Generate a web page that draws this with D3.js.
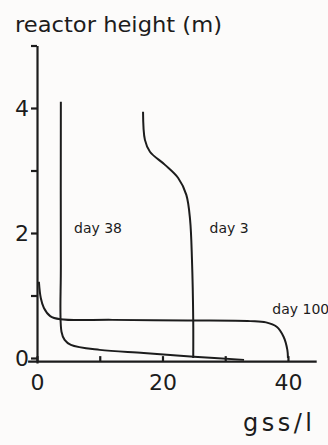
<!DOCTYPE html>
<html>
<head>
<meta charset="utf-8">
<script src="https://cdn.jsdelivr.net/npm/d3@7"></script>
<style>
  body { margin: 0; background: #fcfbfa; }
  svg { display: block; }
  text { font-family: "DejaVu Sans", sans-serif; fill: #1c1c1c; }
</style>
</head>
<body>
<div id="chart"></div>
<script>
// Sludge profiles: concentration (gss/l) vs reactor height (m)
const day3Gss = [16.9, 17.2, 18.0, 20.4, 22.5, 23.8, 24.4, 24.7, 24.9, 24.9];
const day3Height = [3.94, 3.49, 3.3, 3.09, 2.88, 2.61, 2.21, 1.57, 0.6, 0];

const day38Gss = [3.8, 3.8, 3.9, 4.4, 5.4, 10.0, 17.0, 25.0, 33.0];
const day38Height = [4.1, 1.5, 0.42, 0.29, 0.21, 0.13, 0.08, 0.02, -0.03];

const day100Gss = [0.3, 0.6, 1.1, 2.1, 3.7, 12.0, 24.0, 34.0, 36.5, 38.2, 39.3, 39.9, 40.0];
const day100Height = [1.22, 0.96, 0.8, 0.67, 0.62, 0.61, 0.6, 0.59, 0.57, 0.5, 0.34, 0.13, 0];

const seriesNames = ["day 3", "day 38", "day 100"];
const labelSpots = [[27.5, 2.0], [5.9, 2.0], [37.5, 0.71]];

const yTicks = [0, 1, 2, 3, 4, 5];
const yLabels = [0, 2, 4];
const xTicks = [0, 10, 20, 30, 40];
const xLabels = [0, 20, 40];

const width = 328, height = 445;
const ink = "#1c1c1c";

const svg = d3.select("#chart").append("svg")
    .attr("width", width)
    .attr("height", height);

const x = d3.scaleLinear().domain([-1.5, 44.5]).range([27.6, 316.2]);
const y = d3.scaleLinear().domain([-0.08, 5]).range([363, 45.5]);

// y axis
const yAxis = svg.append("g")
    .attr("transform", `translate(${x(0)},0)`)
    .call(d3.axisLeft(y).tickValues(yTicks).tickSize(6).tickSizeOuter(0)
        .tickFormat(d => yLabels.includes(d) ? d : ""));
yAxis.selectAll("path, line").attr("stroke", ink).attr("stroke-width", 2.2);
yAxis.selectAll("text").attr("font-size", 22).attr("x", -8).attr("fill", ink);

// x axis
const xAxis = svg.append("g")
    .attr("transform", `translate(0,${y(-0.05)})`)
    .call(d3.axisBottom(x).tickValues(xTicks).tickSize(-5).tickSizeOuter(0)
        .tickFormat(d => xLabels.includes(d) ? d : ""));
xAxis.selectAll("path, line").attr("stroke", ink).attr("stroke-width", 2.2);
xAxis.selectAll("text").attr("font-size", 22).attr("y", 13).attr("fill", ink);

// curves
const line = d3.line()
    .x(d => x(d[0]))
    .y(d => y(d[1]))
    .curve(d3.curveCatmullRom.alpha(0.5));

const series = [
    d3.zip(day3Gss, day3Height),
    d3.zip(day38Gss, day38Height),
    d3.zip(day100Gss, day100Height)
];

svg.selectAll("path.curve")
    .data(series)
    .join("path")
    .attr("class", "curve")
    .attr("d", line)
    .attr("fill", "none")
    .attr("stroke", ink)
    .attr("stroke-width", 2);

svg.selectAll("text.lab")
    .data(seriesNames)
    .join("text")
    .attr("class", "lab")
    .attr("x", (d, i) => x(labelSpots[i][0]))
    .attr("y", (d, i) => y(labelSpots[i][1]))
    .attr("font-size", 14)
    .text(d => d);

// axis titles
svg.append("text")
    .attr("x", 15).attr("y", 32)
    .attr("font-size", 22)
    .attr("textLength", 207).attr("lengthAdjust", "spacingAndGlyphs")
    .text("reactor height (m)");

svg.append("text")
    .attr("x", 243).attr("y", 431)
    .attr("font-size", 24)
    .attr("textLength", 69).attr("lengthAdjust", "spacing")
    .text("gss/l");
</script>
</body>
</html>
